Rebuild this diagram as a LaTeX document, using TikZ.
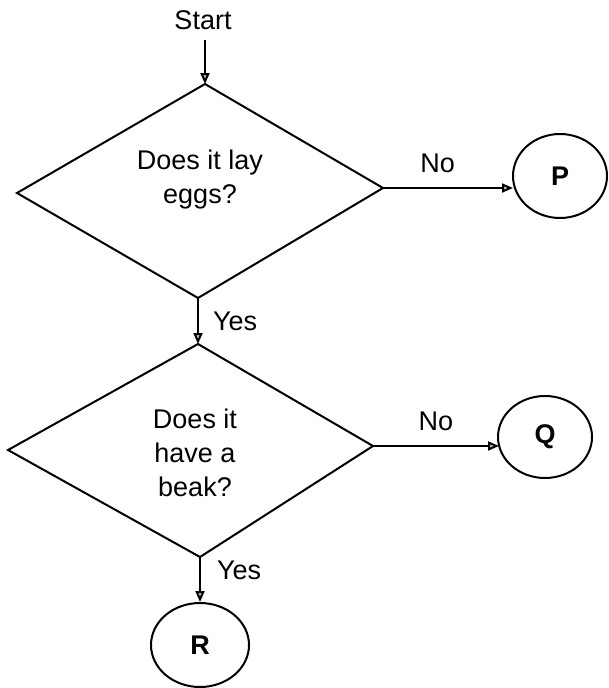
\documentclass[tikz,border=0pt]{standalone}
\usepackage{fontspec}
\setmainfont{Liberation Sans}
\usetikzlibrary{arrows.meta,shapes.geometric}
\begin{document}
\begin{tikzpicture}[x=1pt,y=-1pt,
  line width=2pt,
  lbl/.style={font=\fontsize{27}{34}\selectfont, inner sep=0pt, align=center},
  term/.style={draw, ellipse, inner sep=0pt, font=\fontsize{27}{34}\selectfont\bfseries},
  arr/.style={-{Triangle[length=11pt,width=9pt,fill=gray!50]}},
  dmd/.style={draw, line join=miter}
]
\useasboundingbox (0,0) rectangle (609,688);

% diamond 1
\coordinate (t1) at (205,84);
\coordinate (l1) at (17,193);
\coordinate (r1) at (383,188);
\coordinate (b1) at (198,298);
\draw[dmd] (t1) -- (r1) -- (b1) -- (l1) -- cycle;
\node[lbl] (q1) at (200,180) {Does it lay\\eggs?};

% diamond 2
\coordinate (t2) at (198,344);
\coordinate (l2) at (8,450);
\coordinate (r2) at (373,446);
\coordinate (b2) at (200,557);
\draw[dmd] (t2) -- (r2) -- (b2) -- (l2) -- cycle;
\node[lbl] (q2) at (195,453) {Does it\\have a\\beak?};

% start
\node[lbl, inner ysep=9pt] (start) at (203,20) {Start};

% terminals
\node[term, minimum width=94pt, minimum height=84pt] (P) at (560,176) {P};
\node[term, minimum width=94pt, minimum height=82pt] (Q) at (545,437) {Q};
\node[term, minimum width=98pt, minimum height=84pt] (R) at (200,645) {R};

% connectors
\draw[arr] (start.south -| t1) -- (t1);
\draw[arr] (r1) -- ([xshift=1pt]r1 -| P.west) node[lbl, pos=0.42, above=14pt] (no1) {No};
\draw[arr] (b1) -- (t2) node[lbl, midway, right=14pt] (yes1) {Yes};
\draw[arr] (r2) -- ([xshift=2pt]r2 -| Q.west) node[lbl, pos=0.5, above=14pt] (no2) {No};
\draw[arr] (b2) -- (R.north) node[lbl, pos=0.3, right=16pt] (yes2) {Yes};
\end{tikzpicture}
\end{document}
